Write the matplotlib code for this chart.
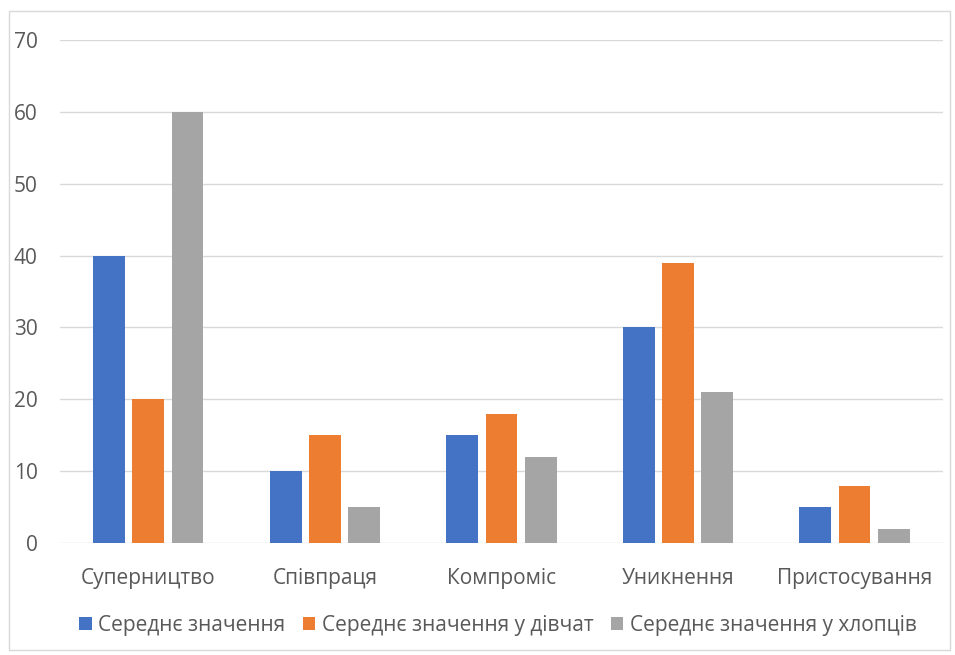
import numpy as np
import matplotlib
matplotlib.use("Agg")
import matplotlib.pyplot as plt
from matplotlib.patches import Rectangle

plt.rcParams['font.family'] = ['Open Sans', 'DejaVu Sans']

# дані
categories = ['Суперництво', 'Співпраця', 'Компроміс', 'Уникнення', 'Пристосування']
series_names = ['Середнє значення', 'Середнє значення у дівчат', 'Середнє значення у хлопців']
mean_all = [40, 10, 15, 30, 5]
mean_girls = [20, 15, 18, 39, 8]
mean_boys = [60, 5, 12, 21, 2]
yticks = [0, 10, 20, 30, 40, 50, 60, 70]

colors = ['#4472C4', '#ED7D31', '#A5A5A5']
text_color = '#595959'

fig = plt.figure(figsize=(9.55, 6.55), dpi=100)
ax = fig.add_axes([0.0628, 0.171, 0.9245, 0.768])

x = np.arange(len(categories))
w = 0.18
step = 0.222
for i, (vals, name) in enumerate(zip([mean_all, mean_girls, mean_boys], series_names)):
    ax.bar(x + (i - 1) * step, vals, width=w, color=colors[i], label=name, zorder=3)

ax.set_xlim(-0.5, len(categories) - 0.5)
ax.set_ylim(0, 70)
ax.set_yticks(yticks)
ax.set_xticks(x)
ax.set_xticklabels(categories)
ax.grid(axis='y', color='#D9D9D9', linewidth=1, zorder=0)
for s in ax.spines.values():
    s.set_visible(False)
ax.tick_params(axis='both', length=0, labelsize=15, colors=text_color)
ax.tick_params(axis='y', pad=16)
ax.tick_params(axis='x', pad=18)

ax.legend(loc='upper center', bbox_to_anchor=(0.496, -0.105), ncol=3, frameon=False,
          fontsize=15, labelcolor=text_color, handlelength=0.6, handleheight=0.6,
          handletextpad=0.3, columnspacing=0.85)

# рамка навколо діаграми
fig.patches.append(Rectangle((0.009, 0.008), 0.986, 0.975, transform=fig.transFigure,
                             fill=False, edgecolor='#D9D9D9', linewidth=1))

fig.savefig('out.png', dpi=100)
